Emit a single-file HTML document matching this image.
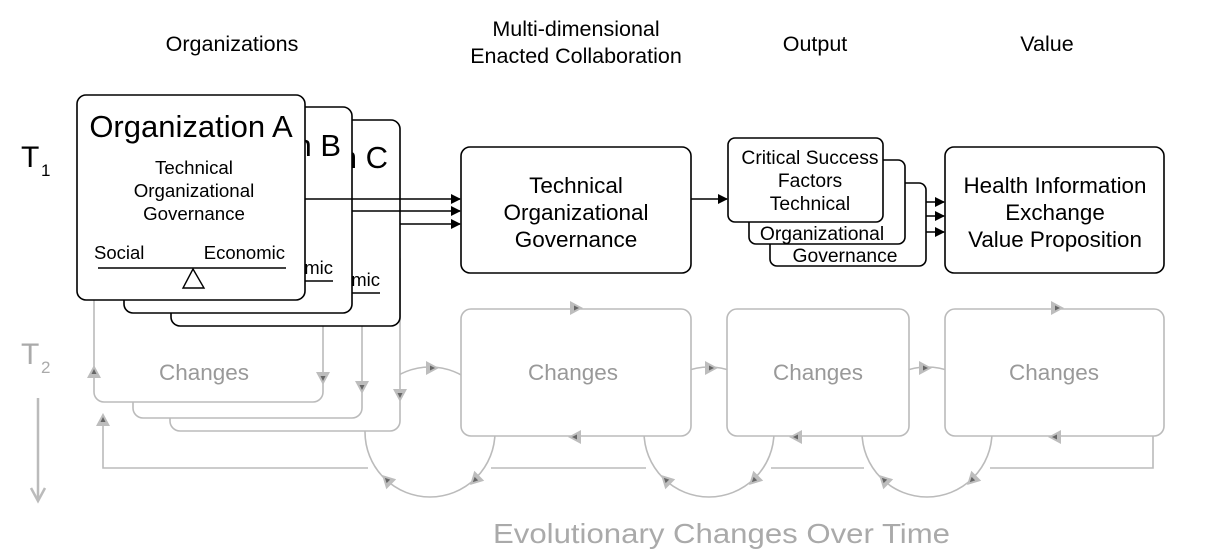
<!DOCTYPE html>
<html><head><meta charset="utf-8"><style>
html,body{margin:0;padding:0;background:#fff;}
svg{display:block;font-family:"Liberation Sans",Arial,sans-serif;}
</style></head><body>
<svg width="1217" height="559" viewBox="0 0 1217 559" xmlns="http://www.w3.org/2000/svg">
<defs>
<marker id="ah" markerWidth="10" markerHeight="10" refX="9" refY="5" orient="auto" markerUnits="userSpaceOnUse"><path d="M0,0 L10,5 L0,10 z" fill="#000"/></marker>
<g id="gt"><path d="M-6,-7 L7,0 L-6,7 z" fill="#bdbdbd"/><path d="M-2,-2.5 L3,0 L-2,2.5 z" fill="#666"/></g>
</defs>

<!-- headers -->
<g font-size="21.5" fill="#000" text-anchor="middle">
<text x="232" y="51">Organizations</text>
<text x="576" y="36">Multi-dimensional</text>
<text x="576" y="63">Enacted Collaboration</text>
<text x="815" y="51">Output</text>
<text x="1047" y="51">Value</text>
</g>
<text x="21" y="167" font-size="30">T</text><text x="41" y="176" font-size="17">1</text>
<text x="21" y="364" font-size="30" fill="#aaa">T</text><text x="41" y="373" font-size="17" fill="#aaa">2</text>
<line x1="38" y1="398" x2="38" y2="500" stroke="#bbb" stroke-width="2.5"/>
<path d="M31,488 L38,501 L45,488" fill="none" stroke="#bbb" stroke-width="2.5"/>

<!-- gray layer -->
<g stroke="#bbb" stroke-width="1.6" fill="none">
<circle cx="430" cy="432" r="65"/>
<circle cx="709" cy="432" r="65"/>
<circle cx="927" cy="432" r="65"/>
<path d="M103,420 L103,468 L368,468 M491,468 L646,468 M771,468 L864,468 M990,468 L1153,468 L1153,436"/>
<rect x="170" y="250" width="230" height="181" rx="10" fill="#fff"/>
<rect x="133" y="240" width="229" height="178" rx="10" fill="#fff"/>
<rect x="94" y="230" width="229" height="172" rx="10" fill="#fff"/>
<rect x="461" y="309" width="230" height="127" rx="10" fill="#fff"/>
<rect x="727" y="309" width="182" height="127" rx="10" fill="#fff"/>
<rect x="945" y="309" width="219" height="127" rx="10" fill="#fff"/>
</g>
<g font-size="22.5" fill="#999" text-anchor="middle">
<text x="204" y="380">Changes</text>
<text x="573" y="380">Changes</text>
<text x="818" y="380">Changes</text>
<text x="1054" y="380">Changes</text>
</g>
<!-- gray arrowheads -->
<use href="#gt" transform="translate(94,372) rotate(-90)"/>
<use href="#gt" transform="translate(103,420) rotate(-90)"/>
<use href="#gt" transform="translate(323,378) rotate(90)"/>
<use href="#gt" transform="translate(362,387) rotate(90)"/>
<use href="#gt" transform="translate(400,395) rotate(90)"/>
<use href="#gt" transform="translate(432,368)"/>
<use href="#gt" transform="translate(576,308)"/>
<use href="#gt" transform="translate(575,437) rotate(180)"/>
<use href="#gt" transform="translate(711,368)"/>
<use href="#gt" transform="translate(796,437) rotate(180)"/>
<use href="#gt" transform="translate(925,368)"/>
<use href="#gt" transform="translate(1057,308)"/>
<use href="#gt" transform="translate(1055,437) rotate(180)"/>
<use href="#gt" transform="translate(387,480) rotate(-135)"/>
<use href="#gt" transform="translate(475,480) rotate(135)"/>
<use href="#gt" transform="translate(666,480) rotate(-135)"/>
<use href="#gt" transform="translate(754,480) rotate(135)"/>
<use href="#gt" transform="translate(884,480) rotate(-135)"/>
<use href="#gt" transform="translate(972,480) rotate(135)"/>

<!-- org boxes -->
<rect x="171" y="120" width="229" height="206" rx="9" fill="#fff" stroke="#000" stroke-width="1.6"/>
<text x="388" y="168" font-size="31" text-anchor="end">n C</text>
<line x1="352" y1="293" x2="380" y2="293" stroke="#000" stroke-width="1.5"/>
<text x="380" y="286" font-size="18.5" text-anchor="end">mic</text>
<rect x="124" y="107" width="228" height="206" rx="9" fill="#fff" stroke="#000" stroke-width="1.6"/>
<text x="341" y="156" font-size="31" text-anchor="end">n B</text>
<line x1="305" y1="281" x2="333" y2="281" stroke="#000" stroke-width="1.5"/>
<text x="333" y="274" font-size="18.5" text-anchor="end">mic</text>
<rect x="77" y="95" width="228" height="205" rx="9" fill="#fff" stroke="#000" stroke-width="1.6"/>
<text x="191" y="137" font-size="31" text-anchor="middle">Organization A</text>
<g font-size="18.7" text-anchor="middle">
<text x="194" y="174">Technical</text>
<text x="194" y="197">Organizational</text>
<text x="194" y="220">Governance</text>
</g>
<text x="94" y="259" font-size="18.5">Social</text>
<text x="285" y="259" font-size="18.5" text-anchor="end">Economic</text>
<line x1="98" y1="268" x2="286" y2="268" stroke="#000" stroke-width="1.5"/>
<path d="M193,269 L183,288 L204,288 z" fill="#fff" stroke="#000" stroke-width="1.4"/>

<!-- black arrows -->
<g stroke="#000" stroke-width="1.6" marker-end="url(#ah)">
<line x1="305" y1="199" x2="460" y2="199"/>
<line x1="352" y1="211" x2="460" y2="211"/>
<line x1="400" y1="224" x2="460" y2="224"/>
<line x1="691" y1="199" x2="727" y2="199"/>
<line x1="883" y1="202" x2="944" y2="202"/>
<line x1="905" y1="216" x2="944" y2="216"/>
<line x1="926" y1="232" x2="944" y2="232"/>
</g>

<rect x="461" y="147" width="230" height="126" rx="9" fill="#fff" stroke="#000" stroke-width="1.6"/>
<g font-size="22.5" text-anchor="middle">
<text x="576" y="193">Technical</text>
<text x="576" y="220">Organizational</text>
<text x="576" y="247">Governance</text>
</g>

<g stroke="#000" stroke-width="1.6" fill="#fff">
<rect x="770" y="183" width="156" height="83" rx="7"/>
<rect x="749" y="160" width="156" height="84" rx="7"/>
<rect x="728" y="138" width="155" height="84" rx="7"/>
</g>
<g font-size="19.3" text-anchor="middle">
<text x="810" y="164">Critical Success</text>
<text x="810" y="187">Factors</text>
<text x="810" y="210">Technical</text>
<text x="822" y="240">Organizational</text>
<text x="845" y="262">Governance</text>
</g>

<rect x="945" y="147" width="219" height="126" rx="9" fill="#fff" stroke="#000" stroke-width="1.6"/>
<g font-size="22.4" text-anchor="middle">
<text x="1055" y="193">Health Information</text>
<text x="1055" y="220">Exchange</text>
<text x="1055" y="247">Value Proposition</text>
</g>

<text x="493" y="543" font-size="28" fill="#aaa" textLength="457" lengthAdjust="spacingAndGlyphs">Evolutionary Changes Over Time</text>
</svg>
</body></html>
